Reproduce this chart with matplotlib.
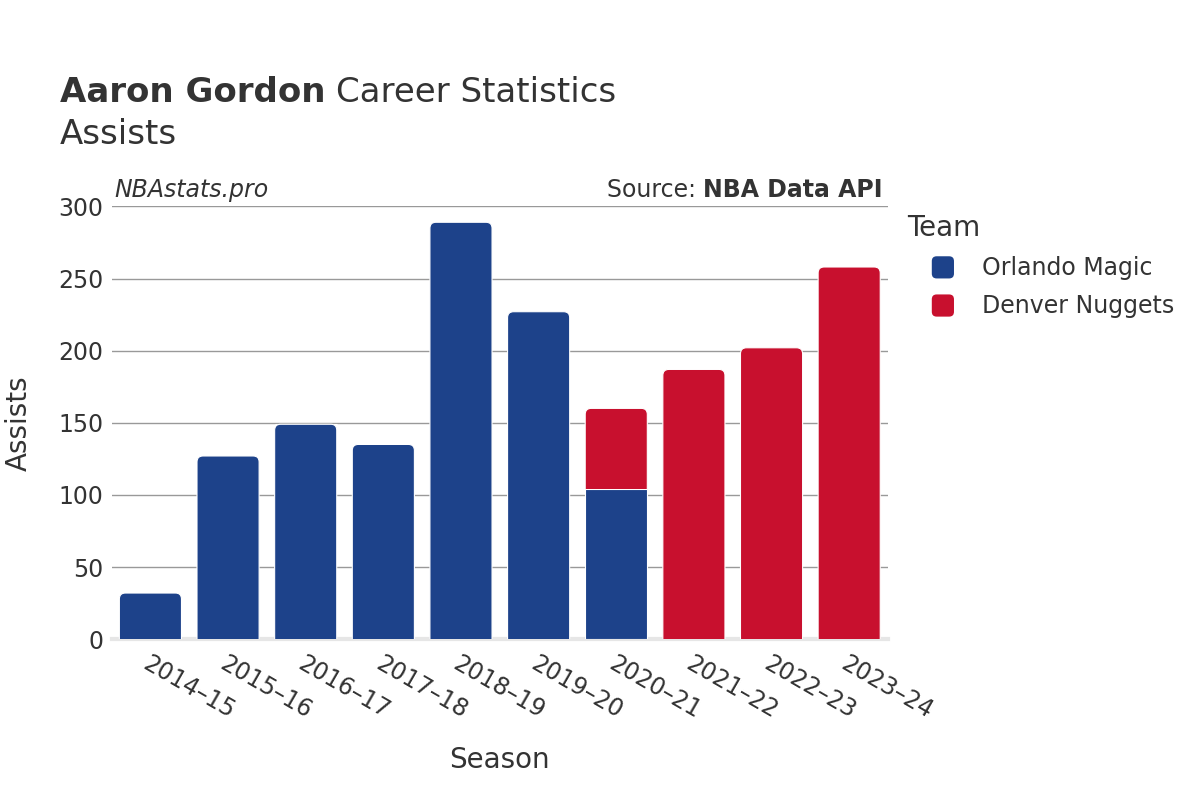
import matplotlib.pyplot as plt
from matplotlib.patches import FancyBboxPatch, Rectangle, Patch
from matplotlib.legend_handler import HandlerPatch

# Werte
saisons = ["2014–15", "2015–16", "2016–17", "2017–18", "2018–19",
           "2019–20", "2020–21", "2021–22", "2022–23", "2023–24"]
orlando = [32, 127, 149, 135, 289, 227, 104, 0, 0, 0]
denver = [0, 0, 0, 0, 0, 0, 56, 187, 202, 258]
teams = ["Orlando Magic", "Denver Nuggets"]
farben = ["#1d428a", "#c8102e"]
grau = "#333333"

fig = plt.figure(figsize=(12, 8), dpi=100)
ax = fig.add_axes([0.093, 0.201, 0.647, 0.541])

x = range(len(saisons))
balken_o = ax.bar(x, orlando, width=0.8, color=farben[0], zorder=3,
                  edgecolor="white", linewidth=0.8)
balken_d = ax.bar(x, denver, width=0.8, bottom=orlando, color=farben[1],
                  zorder=3, edgecolor="white", linewidth=0.8)

ax.set_xlim(-0.5, 9.5)
ax.set_ylim(0, 300)

# obere Ecken abrunden (nur das oberste Segment jeder Saison)
pos = ax.get_position()
px_x = pos.width * 1200 / 10.0     # Pixel pro x-Einheit
px_y = pos.height * 800 / 300.0    # Pixel pro y-Einheit
radius = 6 / px_x
aspekt = px_x / px_y
for i in x:
    oben = balken_d[i] if denver[i] > 0 else balken_o[i]
    x0, y0 = oben.get_x(), oben.get_y()
    w, h = oben.get_width(), oben.get_height()
    oben.set_visible(False)
    rund = FancyBboxPatch((x0, y0 - radius * aspekt), w, h + radius * aspekt,
                          boxstyle=f"round,pad=0,rounding_size={radius}",
                          mutation_aspect=aspekt, facecolor=oben.get_facecolor(),
                          edgecolor="white", linewidth=0.8, zorder=3)
    ax.add_patch(rund)
    clip = Rectangle((x0 - 0.1, y0), w + 0.2, h + 5, transform=ax.transData)
    rund.set_clip_path(clip)

ax.set_yticks(range(0, 301, 50))
ax.set_xticks(list(x))
ax.set_xticklabels(saisons, rotation=-30, ha="left", rotation_mode="anchor",
                   fontsize=17, color=grau)
ax.tick_params(axis="y", labelsize=17, labelcolor=grau, length=0, pad=6)
ax.tick_params(axis="x", length=0, pad=9)
ax.grid(axis="y", color="#999999", linewidth=1, zorder=0)
for s in ["top", "right", "left"]:
    ax.spines[s].set_visible(False)
ax.spines["bottom"].set_color("#e6e6e6")
ax.spines["bottom"].set_linewidth(3)

ax.set_xlabel("Season", fontsize=20, color=grau, labelpad=16)
ax.set_ylabel("Assists", fontsize=20, color=grau, labelpad=18)

t1 = fig.text(0.05, 0.872, "Aaron Gordon", fontsize=24.5, fontweight="bold",
              color=grau, va="baseline")
fig.canvas.draw()
bb1 = t1.get_window_extent()
fig.text(bb1.x1 / 1200 + 0.009, 0.872, "Career Statistics", fontsize=24.5,
         color=grau, va="baseline")
fig.text(0.05, 0.82, "Assists", fontsize=24.5, color=grau, va="baseline")

ax.text(0.003, 1.01, "NBAstats.pro", transform=ax.transAxes, fontsize=17,
        style="italic", color=grau, va="bottom")
quelle = ax.text(0.993, 1.01, "Source: ", transform=ax.transAxes, fontsize=17,
                 color=grau, va="bottom", ha="right")
t = ax.text(0.993, 1.01, "NBA Data API", transform=ax.transAxes, fontsize=17,
            fontweight="bold", color=grau, va="bottom", ha="right")
fig.canvas.draw()
bb = t.get_window_extent().transformed(ax.transAxes.inverted())
quelle.set_x(bb.x0)


# Legendensymbol: abgerundetes Quadrat, etwas eingerückt
def rundes_quadrat(legend, orig_handle, xdescent, ydescent, width, height, fontsize):
    s = height * 1.05
    return FancyBboxPatch((-xdescent + width - s, -ydescent - 0.5), s, s,
                          boxstyle="round,pad=0,rounding_size=3.5")


griffe = [Patch(facecolor=f, edgecolor="none") for f in farben]
leg = ax.legend(griffe, teams, loc="upper left", bbox_to_anchor=(1.012, 1.004),
                frameon=False, fontsize=17, title="Team", title_fontsize=20,
                handlelength=2.0, handleheight=1, labelspacing=0.6,
                handletextpad=1.2, borderaxespad=0,
                handler_map={Patch: HandlerPatch(patch_func=rundes_quadrat)})
leg._legend_box.align = "left"
for txt in leg.get_texts():
    txt.set_color(grau)
leg.get_title().set_color(grau)

fig.savefig("out.png", dpi=100)
